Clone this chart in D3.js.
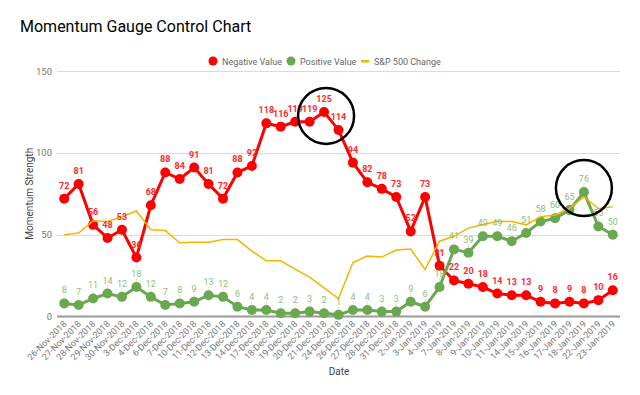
<!DOCTYPE html>
<html>
<head>
<meta charset="utf-8">
<script src="https://cdn.jsdelivr.net/npm/d3@7"></script>
<style>
body { margin: 0; background: #fff; }
text { font-family: Roboto, "Noto Sans", sans-serif; }
</style>
</head>
<body>
<div id="chart"></div>
<script>
var dates = ["26-Nov-2018","27-Nov-2018","28-Nov-2018","29-Nov-2018","30-Nov-2018","3-Dec-2018","4-Dec-2018","6-Dec-2018","7-Dec-2018","10-Dec-2018","11-Dec-2018","12-Dec-2018","13-Dec-2018","14-Dec-2018","17-Dec-2018","18-Dec-2018","19-Dec-2018","20-Dec-2018","21-Dec-2018","24-Dec-2018","26-Dec-2018","27-Dec-2018","28-Dec-2018","31-Dec-2018","2-Jan-2019","3-Jan-2019","4-Jan-2019","7-Jan-2019","8-Jan-2019","9-Jan-2019","10-Jan-2019","11-Jan-2019","14-Jan-2019","15-Jan-2019","16-Jan-2019","17-Jan-2019","18-Jan-2019","22-Jan-2019","23-Jan-2019"];
var negativeValues = [72,81,56,48,53,36,68,88,84,91,81,72,88,92,118,116,119,119,125,114,94,82,78,73,52,73,31,22,20,18,14,13,13,9,8,9,8,10,16];
var positiveValues = [8,7,11,14,12,18,12,7,8,9,13,12,6,4,4,2,2,3,2,1,4,4,3,3,9,6,18,41,39,49,49,46,51,58,60,65,76,55,50];
var spChange = [50,51,58.5,58,61,64.5,53,52.5,45,45.3,45.3,47,47,40,34,34,29,24,17.5,11,33,37,36.3,40.6,41.2,28.7,46,49,54,56,58.2,58,56,61,62,66,73,66,67];
var yTicks = [0,50,100,150];
var highlights = [18, 36]; // circled points

var width = 640, height = 395;
var margin = {left: 57, right: 20, top: 71, bottom: 79};

var svg = d3.select("#chart").append("svg")
	.attr("width", width)
	.attr("height", height);

var x = d3.scaleBand()
	.domain(dates)
	.range([margin.left, width - margin.right]);
var y = d3.scaleLinear()
	.domain([0, 150])
	.range([height - margin.bottom + 0.5, margin.top]);
function cx(i) { return x(dates[i]) + x.bandwidth() / 2; }

// title
svg.append("text")
	.attr("x", 20).attr("y", 32)
	.attr("font-size", "16px")
	.attr("fill", "#000")
	.text("Momentum Gauge Control Chart");

// legend
var legend = svg.append("g").attr("font-size", "9px").attr("fill", "#666");
legend.append("circle").attr("cx", 213).attr("cy", 61).attr("r", 4.5).attr("fill", "#ff0000");
legend.append("text").attr("x", 222).attr("y", 64.5).text("Negative Value");
legend.append("circle").attr("cx", 291).attr("cy", 61).attr("r", 4.5).attr("fill", "#6aa84f");
legend.append("text").attr("x", 300).attr("y", 64.5).text("Positive Value");
legend.append("rect").attr("x", 361).attr("y", 60).attr("width", 8).attr("height", 2.5).attr("fill", "#f4b400");
legend.append("text").attr("x", 374).attr("y", 64.5).text("S&P 500 Change");

// grid + y axis
svg.append("g")
	.selectAll("line")
	.data(yTicks.filter(function(d) { return d > 0; }))
	.enter().append("line")
	.attr("x1", margin.left).attr("x2", width - margin.right)
	.attr("y1", function(d) { return Math.round(y(d)) + 0.5; })
	.attr("y2", function(d) { return Math.round(y(d)) + 0.5; })
	.attr("stroke", "#dadada");

svg.append("g")
	.selectAll("text")
	.data(yTicks)
	.enter().append("text")
	.attr("x", margin.left - 5)
	.attr("y", function(d) { return y(d) + 3.5; })
	.attr("text-anchor", "end")
	.attr("font-size", "9.5px")
	.attr("fill", "#777")
	.text(function(d) { return d; });

svg.append("line")
	.attr("x1", margin.left).attr("x2", width - margin.right)
	.attr("y1", y(0)).attr("y2", y(0))
	.attr("stroke", "#999").attr("stroke-width", 2);

// x tick labels
svg.append("g")
	.selectAll("text")
	.data(dates)
	.enter().append("text")
	.attr("transform", function(d, i) { return "translate(" + (cx(i) + 3) + "," + (y(0) + 8) + ") rotate(-45)"; })
	.attr("text-anchor", "end")
	.attr("font-size", "9px")
	.attr("fill", "#777")
	.text(function(d) { return d; });

// axis titles
svg.append("text")
	.attr("x", 339).attr("y", 375)
	.attr("text-anchor", "middle")
	.attr("font-size", "10px").attr("fill", "#444")
	.text("Date");
svg.append("text")
	.attr("transform", "translate(33," + y(75) + ") rotate(-90)")
	.attr("text-anchor", "middle")
	.attr("font-size", "10px").attr("fill", "#444")
	.text("Momentum Strength");

var lineGen = function(vals) {
	return d3.line()
		.x(function(d, i) { return cx(i); })
		.y(function(d) { return y(d); })(vals);
};

// leader lines for labels
function leaders(vals) {
	svg.append("g")
		.selectAll("line")
		.data(vals)
		.enter().append("line")
		.attr("x1", function(d, i) { return cx(i); })
		.attr("x2", function(d, i) { return cx(i); })
		.attr("y1", function(d) { return y(d) - 9; })
		.attr("y2", function(d) { return y(d); })
		.attr("stroke", "#e6e6e6");
}
leaders(negativeValues);
leaders(positiveValues);

// negative series
svg.append("path")
	.attr("d", lineGen(negativeValues))
	.attr("fill", "none").attr("stroke", "#ff0000").attr("stroke-width", 3);
svg.append("g").selectAll("circle")
	.data(negativeValues)
	.enter().append("circle")
	.attr("cx", function(d, i) { return cx(i); })
	.attr("cy", function(d) { return y(d); })
	.attr("r", 5).attr("fill", "#ff0000");

// positive series
svg.append("path")
	.attr("d", lineGen(positiveValues))
	.attr("fill", "none").attr("stroke", "#6aa84f").attr("stroke-width", 3);
svg.append("g").selectAll("circle")
	.data(positiveValues)
	.enter().append("circle")
	.attr("cx", function(d, i) { return cx(i); })
	.attr("cy", function(d) { return y(d); })
	.attr("r", 5).attr("fill", "#6aa84f");

// s&p line
svg.append("path")
	.attr("d", lineGen(spChange))
	.attr("fill", "none").attr("stroke", "#f4b400").attr("stroke-width", 1.5);

// labels
svg.append("g").selectAll("text")
	.data(negativeValues)
	.enter().append("text")
	.attr("x", function(d, i) { return cx(i); })
	.attr("y", function(d) { return y(d) - 10; })
	.attr("text-anchor", "middle")
	.attr("font-size", "9px").attr("font-weight", "bold")
	.attr("fill", "#ff2a2a")
	.text(function(d) { return d; });
svg.append("g").selectAll("text")
	.data(positiveValues)
	.enter().append("text")
	.attr("x", function(d, i) { return cx(i); })
	.attr("y", function(d) { return y(d) - 10; })
	.attr("text-anchor", "middle")
	.attr("font-size", "9px")
	.attr("fill", "#8cc076")
	.text(function(d) { return d; });

// annotation circles
svg.append("circle")
	.attr("cx", cx(highlights[0]) + 2).attr("cy", y(negativeValues[highlights[0]]) + 4)
	.attr("r", 28).attr("fill", "none").attr("stroke", "#000").attr("stroke-width", 2.5);
svg.append("circle")
	.attr("cx", cx(highlights[1])).attr("cy", y(positiveValues[highlights[1]]) - 4)
	.attr("r", 28).attr("fill", "none").attr("stroke", "#000").attr("stroke-width", 2.5);
</script>
</body>
</html>
